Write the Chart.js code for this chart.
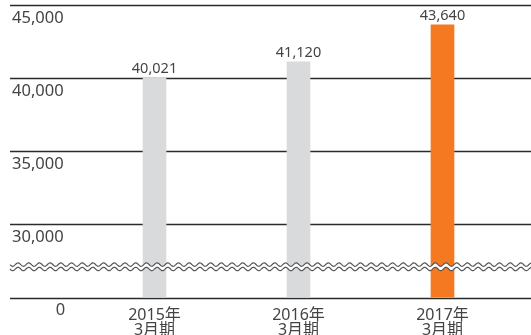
<!DOCTYPE html>
<html>
<head>
<meta charset="utf-8">
<script src="https://cdn.jsdelivr.net/npm/chart.js@4"></script>
<style>
  html, body { margin: 0; padding: 0; background: #fff; }
  #wrap { width: 531px; height: 335px; position: relative; }
</style>
</head>
<body>
<div id="wrap"><canvas id="c"></canvas></div>
<script>
// Fiscal periods and net sales
const periods = [['2015年', '3月期'], ['2016年', '3月期'], ['2017年', '3月期']];
const sales = [40021, 41120, 43640];
const barColors = ['#d9dadb', '#d9dadb', '#f47920'];

// Y axis: the scale starts at 25,000 but its base is shown as 0 behind a break
const yMin = 25000;
const yMax = 45000;
const yTickValues = [30000, 35000, 40000, 45000];
const yTickLabels = ['30,000', '35,000', '40,000', '45,000'];
const zeroLabel = '0';
const breakValue = 27100;

const FONT = "'Noto Sans', 'Noto Sans CJK JP', sans-serif";
const TEXT = '#444';

const decor = {
  id: 'decor',
  beforeDatasetsDraw(chart) {
    const { ctx, scales: { y } } = chart;
    ctx.save();
    ctx.strokeStyle = '#2b2b2b';
    ctx.lineWidth = 1.3;
    [yMin, ...yTickValues].forEach(v => {
      const py = Math.round(y.getPixelForValue(v)) + 0.5;
      ctx.beginPath();
      ctx.moveTo(10, py);
      ctx.lineTo(chart.width, py);
      ctx.stroke();
    });
    ctx.restore();
  },
  afterDatasetsDraw(chart) {
    const { ctx, scales: { x, y } } = chart;
    ctx.save();

    // value labels above bars
    const meta = chart.getDatasetMeta(0);
    ctx.font = `14.5px ${FONT}`;
    ctx.fillStyle = TEXT;
    ctx.textAlign = 'center';
    ctx.textBaseline = 'alphabetic';
    meta.data.forEach((bar, i) => {
      ctx.fillText(sales[i].toLocaleString('en-US'), bar.x, bar.y - 4.5);
    });

    // axis break: a white band edged by two wavy lines
    const yc = y.getPixelForValue(breakValue);
    const period = 10.7, amp = 1.7, half = 2.2;
    const x0 = 10, x1 = chart.width;
    const wavePts = (dy) => {
      const pts = [];
      for (let px = x0; px <= x1; px += 0.5) {
        pts.push([px, yc + dy + amp * Math.sin((px - x0) / period * 2 * Math.PI)]);
      }
      return pts;
    };
    const top = wavePts(-half), bot = wavePts(half);
    ctx.beginPath();
    top.forEach(([px, py], i) => i ? ctx.lineTo(px, py) : ctx.moveTo(px, py));
    for (let i = bot.length - 1; i >= 0; i--) ctx.lineTo(bot[i][0], bot[i][1]);
    ctx.closePath();
    ctx.fillStyle = '#fff';
    ctx.fill();
    ctx.strokeStyle = '#555';
    ctx.lineWidth = 1.2;
    [top, bot].forEach(pts => {
      ctx.beginPath();
      pts.forEach(([px, py], i) => i ? ctx.lineTo(px, py) : ctx.moveTo(px, py));
      ctx.stroke();
    });

    // base label under the break
    ctx.font = `16.5px ${FONT}`;
    ctx.fillStyle = TEXT;
    ctx.textAlign = 'center';
    ctx.textBaseline = 'middle';
    ctx.fillText(zeroLabel, x.left - 22, y.getPixelForValue(yMin) + 13);
    ctx.restore();
  }
};

new Chart(document.getElementById('c'), {
  type: 'bar',
  data: {
    labels: periods,
    datasets: [{
      data: sales,
      backgroundColor: barColors,
      barThickness: 23,
      borderWidth: 0
    }]
  },
  options: {
    responsive: true,
    maintainAspectRatio: false,
    animation: false,
    layout: { padding: { left: 12, right: 16.5, top: 5, bottom: 0 } },
    plugins: { legend: { display: false }, tooltip: { enabled: false } },
    scales: {
      x: {
        grid: { display: false },
        border: { display: false },
        ticks: {
          color: TEXT,
          padding: 3,
          maxRotation: 0,
          font: { family: FONT, size: 16, lineHeight: 0.9 }
        },
        afterFit(s) { s.height = 37.5; }
      },
      y: {
        min: yMin,
        max: yMax,
        grid: { display: false },
        border: { display: false },
        afterBuildTicks(s) { s.ticks = yTickValues.map(v => ({ value: v })); },
        ticks: {
          color: TEXT,
          crossAlign: 'far',
          labelOffset: 13,
          font: { family: FONT, size: 16.5 },
          callback(v) {
            const i = yTickValues.indexOf(v);
            return i >= 0 ? yTickLabels[i] : '';
          }
        },
        afterFit(s) { s.width = 70.5; s.paddingTop = 0; s.paddingBottom = 0; }
      }
    }
  },
  plugins: [decor]
});
</script>
</body>
</html>
